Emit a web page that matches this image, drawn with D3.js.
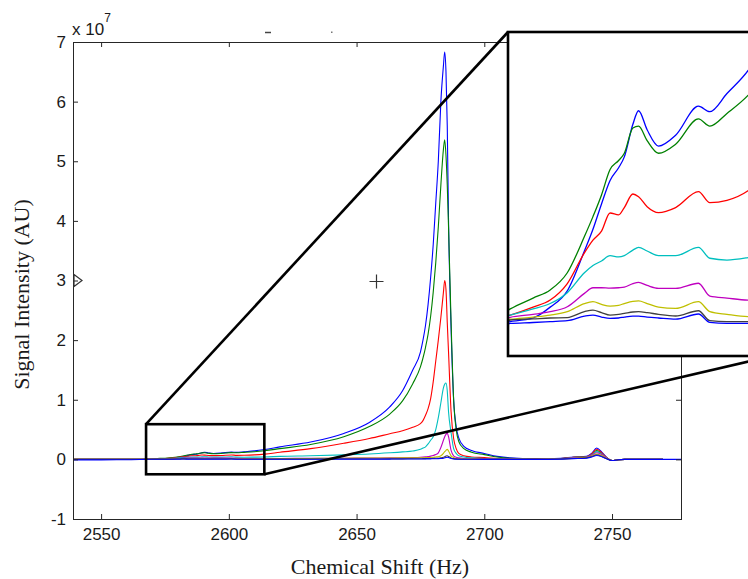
<!DOCTYPE html>
<html>
<head>
<meta charset="utf-8">
<script src="https://cdn.jsdelivr.net/npm/d3@7"></script>
<style>
  body { margin: 0; background: #fff; }
  svg { display: block; }
  .axis text { font-family: "Liberation Sans", Arial, sans-serif; font-size: 17px; fill: #1a1a1a; }
  .axis line { stroke: #262626; }
  .label { font-family: "Liberation Serif", "Times New Roman", serif; font-size: 22px; fill: #1a1a1a; }
</style>
</head>
<body>
<div id="chart"></div>
<script>
/* chemical shift samples (Hz) */
var shift = [2539, 2550, 2560, 2565, 2568, 2572, 2575, 2578, 2581, 2582.5,
  2584, 2585.5, 2587, 2588, 2589.5, 2590.5, 2592, 2594, 2597, 2601,
  2603, 2606, 2610, 2614, 2620, 2632, 2645, 2655, 2663, 2668,
  2672, 2675, 2676, 2677, 2678, 2679, 2680, 2681, 2682, 2683,
  2684, 2684.5, 2685, 2685.5, 2686, 2687, 2688, 2689, 2690, 2692,
  2695, 2700, 2705, 2710, 2720, 2730, 2735, 2740, 2742, 2744,
  2746, 2748, 2750, 2752, 2755, 2770, 2777];

/* signal intensity, in units of 10^7 */
var blue1 = [0, 0, 0, 0.001, 0.002, 0.004, 0.010, 0.019, 0.041, 0.053,
  0.067, 0.080, 0.087, 0.093, 0.111, 0.1185, 0.108, 0.099, 0.105, 0.121,
  0.118, 0.128, 0.142, 0.165, 0.21, 0.29, 0.435, 0.62, 0.88, 1.15,
  1.5, 1.8, 2.0, 2.25, 2.6, 3.05, 3.6, 4.3, 5.0, 6.0,
  6.6, 6.83, 6.5, 5.6, 4.0, 2.2, 1.0, 0.55, 0.36, 0.22,
  0.15, 0.1, 0.05, 0.025, 0.01, 0.02, 0.04, 0.05, 0.1, 0.19,
  0.12, 0.03, -0.02, -0.01, 0, 0, null];
var green = [0, 0, 0, 0.003, 0.009, 0.015, 0.0195, 0.029, 0.049, 0.060,
  0.072, 0.086, 0.091, 0.095, 0.109, 0.110, 0.102, 0.095, 0.100, 0.114,
  0.110, 0.117, 0.128, 0.145, 0.18, 0.25, 0.38, 0.55, 0.76, 0.98,
  1.27, 1.55, 1.7, 1.88, 2.1, 2.4, 2.8, 3.3, 3.9, 4.6,
  5.2, 5.36, 5.1, 4.6, 3.9, 2.3, 1.0, 0.5, 0.3, 0.18,
  0.12, 0.08, 0.04, 0.02, 0.008, 0.015, 0.035, 0.045, 0.08, 0.15,
  0.1, 0.025, -0.02, -0.01, 0, 0, null];
var red = [0.003, 0.003, 0.002, 0.003, 0.0056, 0.010, 0.0139, 0.023, 0.040, 0.047,
  0.052, 0.062, 0.061, 0.065, 0.0725, 0.071, 0.0655, 0.0622, 0.065, 0.0738,
  0.0677, 0.069, 0.075, 0.088, 0.12, 0.18, 0.27, 0.35, 0.43, 0.48,
  0.54, 0.6, 0.65, 0.74, 0.85, 1.02, 1.3, 1.65, 2.0, 2.38,
  2.8, 3.0, 2.85, 2.3, 1.8, 0.8, 0.35, 0.18, 0.1, 0.06,
  0.04, 0.03, 0.015, 0.01, 0.005, 0.015, 0.035, 0.045, 0.09, 0.17,
  0.11, 0.025, -0.02, -0.01, 0, 0, null];
var cyan = [0.002, 0.002, 0.002, 0.003, 0.0056, 0.009, 0.012, 0.018, 0.029, 0.033,
  0.0355, 0.0384, 0.0378, 0.0385, 0.0415, 0.043, 0.041, 0.0384, 0.0384, 0.043,
  0.037, 0.036, 0.0375, 0.040, 0.05, 0.06, 0.075, 0.09, 0.11, 0.125,
  0.14, 0.17, 0.19, 0.21, 0.26, 0.32, 0.38, 0.5, 0.7, 0.95,
  1.2, 1.26, 1.28, 1.15, 0.8, 0.45, 0.18, 0.1, 0.06, 0.04,
  0.025, 0.015, 0.01, 0.005, 0.003, 0.012, 0.03, 0.04, 0.075, 0.13,
  0.09, 0.02, -0.02, -0.01, 0, 0, null];
var magenta = [0.001, 0.001, 0.001, 0.002, 0.0044, 0.006, 0.0075, 0.0102, 0.0176, 0.0207,
  0.0207, 0.0205, 0.0207, 0.021, 0.023, 0.0237, 0.022, 0.0204, 0.0204, 0.0232,
  0.0161, 0.015, 0.0139, 0.014, 0.015, 0.018, 0.02, 0.022, 0.025, 0.027,
  0.03, 0.035, 0.038, 0.042, 0.048, 0.055, 0.065, 0.08, 0.11, 0.2,
  0.32, 0.38, 0.42, 0.44, 0.38, 0.15, 0.06, 0.035, 0.025, 0.015,
  0.01, 0.008, 0.005, 0.003, 0.002, 0.01, 0.025, 0.035, 0.065, 0.11,
  0.08, 0.02, -0.02, -0.01, 0, 0, null];
var olive = [0, 0.001, 0.001, 0.002, 0.0033, 0.0045, 0.0056, 0.0075, 0.012, 0.013,
  0.0115, 0.0106, 0.011, 0.012, 0.0132, 0.0134, 0.012, 0.010, 0.0093, 0.013,
  0.0075, 0.006, 0.0047, 0.006, 0.01, 0.015, 0.02, 0.022, 0.024, 0.025,
  0.026, 0.027, 0.028, 0.029, 0.03, 0.032, 0.035, 0.04, 0.045, 0.06,
  0.1, 0.13, 0.15, 0.17, 0.14, 0.06, 0.03, 0.015, 0.01, 0.006,
  0.004, 0.003, 0.002, 0.001, 0.001, 0.008, 0.02, 0.03, 0.055, 0.09,
  0.065, 0.015, -0.02, -0.01, 0, 0, null];
var black = [0, 0, 0, 0.001, 0.0029, 0.0035, 0.004, 0.0042, 0.0075, 0.0084,
  0.007, 0.0056, 0.006, 0.0065, 0.0073, 0.0075, 0.007, 0.006, 0.0051, 0.008,
  0.0025, 0.002, 0.002, 0.003, 0.004, 0.005, 0.006, 0.007, 0.008, 0.009,
  0.01, 0.011, 0.012, 0.013, 0.014, 0.015, 0.016, 0.018, 0.02, 0.025,
  0.035, 0.045, 0.055, 0.06, 0.05, 0.025, 0.012, 0.006, 0.004, 0.003,
  0.002, 0.001, 0.001, 0, 0, 0.006, 0.015, 0.025, 0.045, 0.075,
  0.05, 0.01, -0.02, -0.01, 0, 0, null];
var blue2 = [-0.008, -0.008, -0.006, -0.003, 0.001, 0.0015, 0.002, 0.0025, 0.005, 0.0056,
  0.0045, 0.0038, 0.004, 0.0045, 0.005, 0.005, 0.0045, 0.004, 0.0034, 0.0062,
  0.0016, 0.001, 0.001, 0.002, 0.003, 0.003, 0.004, 0.005, 0.005, 0.006,
  0.006, 0.007, 0.007, 0.008, 0.008, 0.009, 0.01, 0.011, 0.012, 0.015,
  0.02, 0.026, 0.032, 0.035, 0.03, 0.015, 0.007, 0.004, 0.003, 0.002,
  0.001, 0, 0, 0, 0, 0.005, 0.012, 0.02, 0.04, 0.065,
  0.045, 0.008, -0.02, -0.01, 0, 0, 0];

var series = [blue1, green, red, cyan, magenta, olive, black, blue2];
var colors = ["#0000ff", "#008000", "#ff0000", "#00bfbf", "#bf00bf", "#bfbf00", "#404040", "#0000ff"];

var xTicks = [2550, 2600, 2650, 2700, 2750];
var yTicks = [-1, 0, 1, 2, 3, 4, 5, 6, 7];
var xDomain = [2539, 2777];
var yDomain = [-1, 7];

/* region blown up in the inset */
var zoomX = [2567.6, 2613.9];
var zoomY = [-0.25, 0.59];
var insetY = [-0.017, 0.162];

var W = 748, H = 579;
var plot = {left: 73, top: 42, right: 681, bottom: 519};
var inset = {left: 508, top: 32, right: 772, bottom: 356};

var svg = d3.select("#chart").append("svg")
    .attr("width", W).attr("height", H);

var x = d3.scaleLinear().domain(xDomain).range([plot.left, plot.right]);
var y = d3.scaleLinear().domain(yDomain).range([plot.bottom, plot.top]);

svg.append("clipPath").attr("id", "plotclip")
  .append("rect")
    .attr("x", plot.left).attr("y", plot.top)
    .attr("width", plot.right - plot.left).attr("height", plot.bottom - plot.top);

/* spectra */
function drawLines(g, xs, ys, width) {
    var line = d3.line()
        .defined(function(d) { return d != null; })
        .x(function(d, i) { return xs(shift[i]); })
        .y(function(d) { return ys(d); })
        .curve(d3.curveMonotoneX);
    series.forEach(function(s, k) {
        g.append("path")
            .attr("d", line(s))
            .attr("fill", "none")
            .attr("stroke", colors[k])
            .attr("stroke-width", width)
            .attr("stroke-linejoin", "round");
    });
}

var main = svg.append("g").attr("clip-path", "url(#plotclip)");
drawLines(main, x, y, 1.1);

/* axes: ticks point inward, MATLAB style; plain hyphen for negatives */
var plain = function(d) { return String(d); };
svg.append("g").attr("class", "axis")
    .attr("transform", "translate(0," + plot.bottom + ")")
    .call(d3.axisBottom(x).tickValues(xTicks).tickSize(-5).tickPadding(9).tickFormat(plain))
    .call(function(g) { g.select(".domain").remove(); });
svg.append("g").attr("class", "axis")
    .attr("transform", "translate(0," + plot.top + ")")
    .call(d3.axisTop(x).tickValues(xTicks).tickSize(-5).tickFormat(""))
    .call(function(g) { g.select(".domain").remove(); });
svg.append("g").attr("class", "axis")
    .attr("transform", "translate(" + plot.left + ",0)")
    .call(d3.axisLeft(y).tickValues(yTicks).tickSize(-5).tickPadding(7).tickFormat(plain))
    .call(function(g) { g.select(".domain").remove(); });
svg.append("g").attr("class", "axis")
    .attr("transform", "translate(" + plot.right + ",0)")
    .call(d3.axisRight(y).tickValues(yTicks).tickSize(-5).tickFormat(""))
    .call(function(g) { g.select(".domain").remove(); });

svg.append("rect")
    .attr("x", plot.left + 0.5).attr("y", plot.top + 0.5)
    .attr("width", plot.right - plot.left).attr("height", plot.bottom - plot.top)
    .attr("fill", "none").attr("stroke", "#262626").attr("stroke-width", 1);

/* exponent label */
var ex = svg.append("text")
    .attr("x", plot.left - 1).attr("y", 35)
    .style("font-family", "Liberation Sans, Arial, sans-serif")
    .style("font-size", "17px").style("fill", "#1a1a1a");
ex.append("tspan").text("x 10");
ex.append("tspan").attr("dy", -13).style("font-size", "12px").text("7");

/* axis titles */
svg.append("text").attr("class", "label")
    .attr("x", (plot.left + plot.right) / 2 + 3).attr("y", 574)
    .attr("text-anchor", "middle")
    .text("Chemical Shift (Hz)");
svg.append("text").attr("class", "label")
    .attr("transform", "translate(29," + ((plot.top + plot.bottom) / 2 + 14) + ") rotate(-90)")
    .attr("text-anchor", "middle")
    .text("Signal Intensity (AU)");

/* data cursor leftovers */
svg.append("path")
    .attr("d", "M" + (plot.left + 1) + "," + (y(3) - 6) + "L" + (plot.left + 9) + "," + y(3) +
          "L" + (plot.left + 1) + "," + (y(3) + 6) + "Z")
    .attr("fill", "none").attr("stroke", "#333").attr("stroke-width", 1.2);
var cx = Math.round(x(2657.8)) + 0.5, cy = Math.round(y(3)) + 0.5;
svg.append("path")
    .attr("d", "M" + (cx - 7) + "," + cy + "H" + (cx + 7) + "M" + cx + "," + (cy - 7) + "V" + (cy + 7))
    .attr("stroke", "#333").attr("stroke-width", 1.2);
svg.append("line").attr("x1", 265).attr("x2", 271).attr("y1", 32.5).attr("y2", 32.5)
    .attr("stroke", "#444").attr("stroke-width", 1.5);
svg.append("rect").attr("x", 331).attr("y", 31.5).attr("width", 1.5).attr("height", 1.5)
    .attr("fill", "#777");

/* zoom box and connectors */
var bx0 = x(zoomX[0]), bx1 = x(zoomX[1]), by0 = y(zoomY[1]), by1 = y(zoomY[0]);
svg.append("rect")
    .attr("x", bx0).attr("y", by0).attr("width", bx1 - bx0).attr("height", by1 - by0)
    .attr("fill", "none").attr("stroke", "#000").attr("stroke-width", 2.6);

/* inset */
var ix = d3.scaleLinear().domain(zoomX).range([inset.left, inset.right]);
var iy = d3.scaleLinear().domain(insetY).range([inset.bottom, inset.top]);

svg.append("clipPath").attr("id", "insetclip")
  .append("rect")
    .attr("x", inset.left).attr("y", inset.top)
    .attr("width", inset.right - inset.left).attr("height", inset.bottom - inset.top);

svg.append("rect")
    .attr("x", inset.left).attr("y", inset.top)
    .attr("width", inset.right - inset.left).attr("height", inset.bottom - inset.top)
    .attr("fill", "#fff");
var ig = svg.append("g").attr("clip-path", "url(#insetclip)");
drawLines(ig, ix, iy, 1.3);
svg.append("rect")
    .attr("x", inset.left).attr("y", inset.top)
    .attr("width", inset.right - inset.left).attr("height", inset.bottom - inset.top)
    .attr("fill", "none").attr("stroke", "#000").attr("stroke-width", 2.6);

svg.append("line")
    .attr("x1", bx0).attr("y1", by0).attr("x2", inset.left).attr("y2", inset.top)
    .attr("stroke", "#000").attr("stroke-width", 2.6);
svg.append("line")
    .attr("x1", bx1).attr("y1", by1).attr("x2", inset.right).attr("y2", inset.bottom)
    .attr("stroke", "#000").attr("stroke-width", 2.6);
</script>
</body>
</html>
